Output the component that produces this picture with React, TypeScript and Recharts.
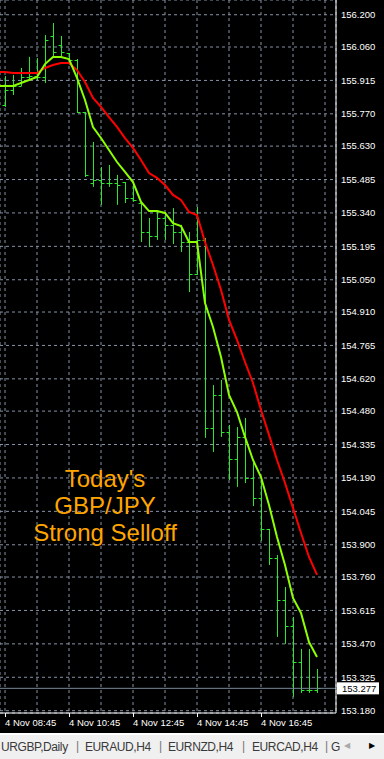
import { ComposedChart, Bar, Line, XAxis, YAxis, CartesianGrid, ReferenceLine } from "recharts"

// 15-minute bars, first one is 4 Nov 08:45
const opens = [
  155.808, 155.873, 155.891, 155.93, 155.934, 155.93, 156.108, 156.069, 156.034, 156.004,
  155.778, 155.47, 155.483, 155.47, 155.47, 155.474, 155.405, 155.383, 155.257, 155.24,
  155.318, 155.288, 155.257, 155.214, 155.075, 155.223, 154.407, 154.55, 154.39, 154.272,
  154.368, 154.19, 154.103, 153.969, 153.843, 153.661, 153.548, 153.392, 153.27, 153.27,
]
const highs = [
  155.934, 155.939, 155.969, 156.017, 156.012, 156.112, 156.164, 156.108, 156.034, 156.008,
  155.778, 155.648, 155.539, 155.548, 155.505, 155.474, 155.461, 155.383, 155.318, 155.344,
  155.344, 155.361, 155.288, 155.257, 155.366, 155.231, 154.593, 154.615, 154.42, 154.411,
  154.45, 154.255, 154.194, 153.969, 153.856, 153.717, 153.587, 153.448, 153.448, 153.361,
]
const lows = [
  155.8, 155.852, 155.891, 155.917, 155.917, 155.904, 156.021, 156.017, 155.982, 155.774,
  155.496, 155.453, 155.375, 155.453, 155.375, 155.383, 155.388, 155.214, 155.192, 155.223,
  155.223, 155.205, 155.171, 154.997, 155.071, 154.364, 154.303, 154.368, 154.181, 154.151,
  154.168, 154.068, 153.917, 153.812, 153.5, 153.47, 153.24, 153.257, 153.257, 153.257,
]
const closes = [
  155.873, 155.891, 155.93, 155.934, 155.93, 156.09, 156.038, 156.038, 156.004, 155.778,
  155.505, 155.483, 155.47, 155.47, 155.461, 155.405, 155.396, 155.257, 155.24, 155.318,
  155.288, 155.257, 155.214, 155.075, 155.223, 154.407, 154.55, 154.39, 154.272, 154.368,
  154.19, 154.103, 153.969, 153.843, 153.661, 153.548, 153.392, 153.27, 153.27, 153.277,
]

// moving averages, starting one bar earlier (08:30)
const fastMA = [
  155.891, 155.891, 155.891, 155.904, 155.917, 155.93, 155.986, 156.017, 156.017, 156.008,
  155.926, 155.83, 155.713, 155.665, 155.613, 155.561, 155.518, 155.474, 155.388, 155.348,
  155.348, 155.34, 155.296, 155.283, 155.214, 155.214, 154.949, 154.845, 154.715, 154.55,
  154.476, 154.368, 154.268, 154.194, 154.073, 153.934, 153.812, 153.669, 153.604, 153.478,
  153.413,
]
const slowMA = [
  155.952, 155.952, 155.947, 155.947, 155.947, 155.947, 155.969, 155.982, 155.991, 155.991,
  155.96, 155.908, 155.839, 155.8, 155.756, 155.713, 155.665, 155.622, 155.57, 155.513,
  155.492, 155.461, 155.418, 155.396, 155.344, 155.331, 155.214, 155.114, 155.006, 154.876,
  154.789, 154.693, 154.602, 154.485, 154.377, 154.268, 154.168, 154.06, 153.951, 153.847,
  153.769,
]

const priceTicks = [
  156.2, 156.06, 155.915, 155.77, 155.63, 155.485, 155.34, 155.195, 155.05, 154.91, 154.765,
  154.62, 154.48, 154.335, 154.19, 154.045, 153.9, 153.76, 153.615, 153.47, 153.325, 153.18,
]
const gridTicks = [0, 4, 8, 12, 16, 20, 24, 28, 32, 36, 40]
const labelTicks = [0, 8, 16, 24, 32]
const timeLabels = ["4 Nov 08:45", "4 Nov 10:45", "4 Nov 12:45", "4 Nov 14:45", "4 Nov 16:45"]
const currentPrice = 153.277

const tabs = ["URGBP,Daily", "EURAUD,H4", "EURNZD,H4", "EURCAD,H4", "G"]

const data = fastMA.map((f, i) => {
  const b = i - 1
  return {
    k: b,
    fast: f,
    slow: slowMA[i],
    open: b >= 0 ? opens[b] : null,
    high: b >= 0 ? highs[b] : null,
    low: b >= 0 ? lows[b] : null,
    close: b >= 0 ? closes[b] : null,
  }
})

const FONT = "'Liberation Sans', Arial, sans-serif"
const barColor = "#2ee62e"

function OhlcShape(props: any) {
  const { x, y, width, height, payload } = props
  if (!payload || payload.high == null) return null
  const cx = Math.round(x + width / 2) + 0.5
  const top = Math.min(y, y + height)
  const span = Math.abs(height)
  const range = payload.high - payload.low
  const yOf = (v: number) => top + (range ? ((payload.high - v) / range) * span : 0)
  const yo = Math.round(yOf(payload.open)) + 0.5
  const yc = Math.round(yOf(payload.close)) + 0.5
  return (
    <g stroke={barColor} strokeWidth={1}>
      <line x1={cx} x2={cx} y1={top} y2={top + span} />
      <line x1={cx - 3} x2={cx} y1={yo} y2={yo} />
      <line x1={cx} x2={cx + 3} y1={yc} y2={yc} />
    </g>
  )
}

function TimeTick(props: any) {
  const { x, y, payload } = props
  const i = labelTicks.indexOf(payload.value)
  if (i < 0) return null
  return (
    <g>
      <line x1={x + 0.5} x2={x + 0.5} y1={y} y2={y + 4} stroke="#fff" />
      <text x={x} y={y + 13} fill="#fff" fontSize={9.5} fontFamily={FONT}>
        {timeLabels[i]}
      </text>
    </g>
  )
}

function PriceTag(props: any) {
  const vb = props.viewBox
  if (!vb) return null
  const left = vb.x + vb.width + 1
  return (
    <g>
      <rect x={left} y={vb.y - 6} width={42} height={12} fill="#fff" />
      <text x={left + 5} y={vb.y + 4} fill="#000" fontSize={9.5} fontFamily={FONT}>
        {currentPrice.toFixed(3)}
      </text>
    </g>
  )
}

export default function App() {
  return (
    <div style={{ position: "absolute", left: 0, top: 0, width: 384, height: 759, background: "#000", overflow: "hidden" }}>
      <ComposedChart
        width={384}
        height={733}
        data={data}
        margin={{ top: 0, right: 0, bottom: 0, left: 0 }}
        style={{ fontFamily: FONT }}
      >
        <CartesianGrid stroke="#8793a6" strokeDasharray="3 3" />
        <XAxis
          dataKey="k"
          type="number"
          domain={[-0.625, 41.375]}
          allowDataOverflow
          ticks={gridTicks}
          interval={0}
          height={20}
          tickSize={0}
          tickMargin={0}
          tickLine={false}
          axisLine={{ stroke: "#fff" }}
          tick={<TimeTick />}
        />
        <YAxis
          orientation="right"
          type="number"
          domain={[153.17, 156.264]}
          allowDataOverflow
          ticks={priceTicks}
          interval={0}
          width={48}
          tickSize={0}
          tickMargin={5}
          tickLine={false}
          axisLine={{ stroke: "#fff" }}
          tickFormatter={(v: number) => v.toFixed(3)}
          tick={{ fill: "#fff", fontSize: 9.5, fontFamily: FONT }}
        />
        <ReferenceLine y={currentPrice} stroke="#778899" label={<PriceTag />} />
        <Bar
          dataKey={(d: any) => (d.high == null ? null : [d.low, d.high])}
          barSize={7}
          shape={<OhlcShape />}
          isAnimationActive={false}
        />
        <Line type="linear" dataKey="slow" stroke="#ff0000" strokeWidth={2} dot={false} isAnimationActive={false} />
        <Line type="linear" dataKey="fast" stroke="#8cff00" strokeWidth={2} dot={false} isAnimationActive={false} />
      </ComposedChart>

      <div
        style={{
          position: "absolute",
          left: 0,
          top: 465,
          width: 210,
          textAlign: "center",
          color: "#ffa500",
          fontFamily: FONT,
          fontSize: 24,
          lineHeight: "27px",
        }}
      >
        Today's
        <br />
        GBP/JPY
        <br />
        Strong Selloff
      </div>

      <div
        style={{
          position: "absolute",
          left: 0,
          top: 733,
          width: 384,
          height: 26,
          background: "#f0f0f0",
          borderTop: "2px solid #fff",
          boxSizing: "border-box",
          fontFamily: FONT,
          fontSize: 12,
          letterSpacing: -0.4,
          color: "#3a3a3a",
        }}
      >
        {tabs.map((t, i) => (
          <span key={t} style={{ position: "absolute", top: 5, left: [1, 85, 168, 252, 331][i] }}>
            {t}
          </span>
        ))}
        {[76, 159, 242, 325].map((x) => (
          <span key={x} style={{ position: "absolute", top: 4, left: x, color: "#777" }}>|</span>
        ))}
        <span style={{ position: "absolute", top: 6, left: 344, fontSize: 8, color: "#aaa" }}>◀</span>
        <span style={{ position: "absolute", top: 6, left: 369, fontSize: 8, color: "#000" }}>▶</span>
      </div>
    </div>
  )
}
